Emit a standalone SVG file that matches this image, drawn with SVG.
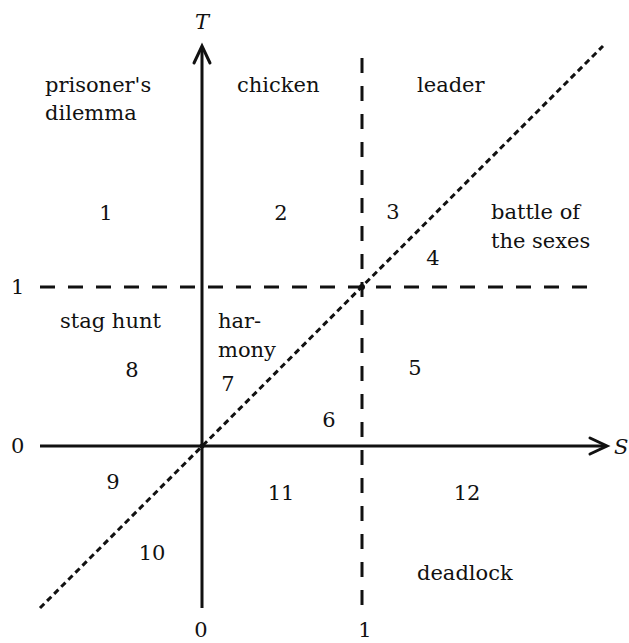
<svg xmlns="http://www.w3.org/2000/svg" width="629" height="643" viewBox="0 0 629 643">
<style>
  text { font-family: "DejaVu Serif", "Liberation Serif", serif; font-size: 21px; fill: #111; }
  .it { font-style: italic; }
  .m { text-anchor: middle; }
  .axis { stroke: #111; stroke-width: 3; fill: none; }
  .dash { stroke: #111; stroke-width: 3; fill: none; stroke-dasharray: 15 13; }
  .dot { stroke: #111; stroke-width: 3; fill: none; stroke-dasharray: 6 4; }
  .head { stroke: #111; stroke-width: 3; fill: none; stroke-linecap: round; stroke-linejoin: miter; }
</style>
<rect width="629" height="643" fill="#fff"/>
<g id="connectors">
  <line class="dot" x1="40" y1="608" x2="603" y2="46"/>
  <line class="dash" x1="40" y1="287" x2="594" y2="287"/>
  <line class="dash" x1="362" y1="58" x2="362" y2="610"/>
  <line class="axis" x1="202" y1="608" x2="202" y2="47"/>
  <polyline class="head" points="194,63 202,46 210,63"/>
  <line class="axis" x1="40" y1="446" x2="605" y2="446"/>
  <polyline class="head" points="590,438 607,446 590,454"/>
  <circle cx="202" cy="446" r="2.5" fill="#111"/>
  <circle cx="362" cy="287" r="3" fill="#111"/>
</g>
<g id="axis-labels">
  <text class="it m" x="202" y="29">T</text>
  <text class="it" x="614" y="454">S</text>
  <text x="11" y="294">1</text>
  <text x="11" y="453">0</text>
  <text class="m" x="201" y="637">0</text>
  <text class="m" x="365" y="637">1</text>
</g>
<g id="prisoners-dilemma"><text x="45" y="92">prisoner's</text><text x="45" y="120">dilemma</text></g>
<g id="chicken"><text x="237" y="92">chicken</text></g>
<g id="leader"><text x="417" y="92">leader</text></g>
<g id="battle-of-the-sexes"><text x="491" y="219">battle of</text><text x="491" y="248">the sexes</text></g>
<g id="stag-hunt"><text x="60" y="328">stag hunt</text></g>
<g id="harmony"><text x="218" y="328">har-</text><text x="218" y="357">mony</text></g>
<g id="deadlock"><text x="417" y="580">deadlock</text></g>
<g id="numbers">
  <text class="m" x="106" y="220">1</text>
  <text class="m" x="281" y="220">2</text>
  <text class="m" x="393" y="219">3</text>
  <text class="m" x="433" y="265">4</text>
  <text class="m" x="415" y="375">5</text>
  <text class="m" x="329" y="427">6</text>
  <text class="m" x="228" y="391">7</text>
  <text class="m" x="132" y="377">8</text>
  <text class="m" x="113" y="489">9</text>
  <text class="m" x="152" y="560">10</text>
  <text class="m" x="281" y="500">11</text>
  <text class="m" x="467" y="500">12</text>
</g>
</svg>
